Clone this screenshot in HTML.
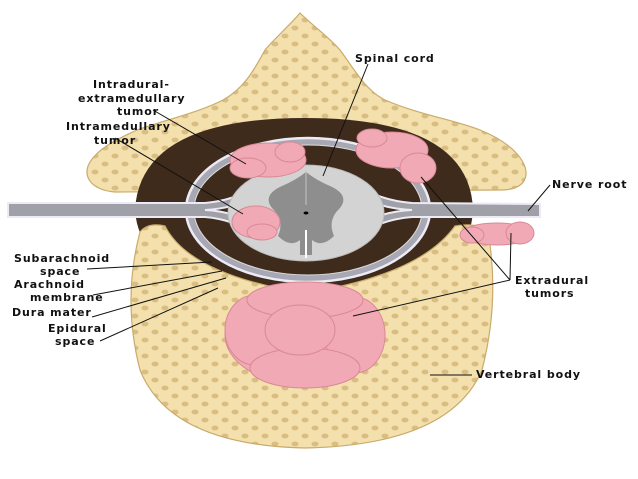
<!DOCTYPE html>
<html><head><meta charset="utf-8"><style>
html,body{margin:0;padding:0;background:#fff;}
svg{display:block}
text{font-family:"DejaVu Sans","Liberation Sans",sans-serif;font-weight:bold;font-size:11px;letter-spacing:0.9px;fill:#111}
</style></head><body>
<svg width="638" height="479" viewBox="0 0 638 479" xmlns="http://www.w3.org/2000/svg">
<defs>
<pattern id="bone" width="20" height="16" patternUnits="userSpaceOnUse">
<rect width="20" height="16" fill="#f3e0ad"/>
<ellipse cx="5" cy="4" rx="3.5" ry="2.4" fill="#d9bd82"/>
<ellipse cx="15" cy="12" rx="3.5" ry="2.4" fill="#d9bd82"/>
</pattern>
</defs>
<!-- upper posterior arch -->
<path d="M300 13 C312 25 330 38 340 50 C355 70 365 90 385 100 C420 115 455 120 480 130 C510 142 527 160 526 175 C524 188 510 190 500 190 L115 192 C92 190 84 178 88 166 C95 150 115 140 137 130 C165 120 200 112 223 100 C245 88 255 68 265 50 C275 38 290 25 300 13Z" fill="url(#bone)" stroke="#c9ab6a" stroke-width="1.2"/>
<!-- canal -->
<path d="M135 210 Q140 118 305 118 Q470 118 473 210 Q470 292 305 296 Q140 292 135 210Z" fill="#3e2b1c"/>
<!-- lower vertebral body (drawn over canal) -->
<path d="M140 232 Q148 222 165 226 Q190 275 305 293 Q420 275 455 226 Q478 222 488 232 Q500 300 482 370 Q450 445 305 448 Q170 445 140 370 Q122 300 140 232Z" fill="url(#bone)" stroke="#c9ab6a" stroke-width="1.2"/>
<!-- dura -->
<ellipse cx="308" cy="210" rx="122" ry="72" fill="#a8a8b4" stroke="#ecebf5" stroke-width="2.5"/>
<ellipse cx="308" cy="210" rx="114" ry="65" fill="#3e2b1c" stroke="#ddd" stroke-width="1"/>
<!-- nerve roots -->
<path d="M8 203 L205 203 Q240 200 265 180 L270 186 Q245 208 205 210 Q245 212 270 236 L265 242 Q240 220 205 217 L8 217Z" fill="#a0a0a8" stroke="#ecebf5" stroke-width="2"/>
<path d="M540 204 L412 203 Q375 200 350 180 L345 186 Q370 208 412 210 Q370 212 345 236 L350 242 Q375 220 412 217 L540 217Z" fill="#a0a0a8" stroke="#ecebf5" stroke-width="2"/>
<!-- spinal cord -->
<ellipse cx="306" cy="213" rx="78" ry="48" fill="#d3d3d3" stroke="#bbb"/>
<path d="M306 172 Q296 180 282 186 Q262 195 272 208 Q285 220 278 236 Q290 248 300 240 L300 255 L312 255 L312 240 Q322 248 334 236 Q327 220 340 208 Q350 195 330 186 Q316 180 306 172Z" fill="#8e8e8e"/>
<line x1="306" y1="170" x2="306" y2="205" stroke="#c4c4c4" stroke-width="1"/>
<line x1="306" y1="230" x2="306" y2="258" stroke="#fff" stroke-width="2"/>
<ellipse cx="306" cy="213" rx="2.5" ry="1.5" fill="#000"/>
<!-- tumors -->
<g fill="#f2a9b6" stroke="#d88995" stroke-width="1">
<ellipse cx="268" cy="160" rx="38" ry="17"/><ellipse cx="248" cy="168" rx="18" ry="10"/><ellipse cx="290" cy="152" rx="15" ry="10"/>
<ellipse cx="392" cy="150" rx="36" ry="18"/><ellipse cx="418" cy="168" rx="18" ry="15"/><ellipse cx="372" cy="138" rx="15" ry="9"/>
<ellipse cx="256" cy="222" rx="24" ry="16"/><ellipse cx="262" cy="232" rx="15" ry="8"/>
<ellipse cx="497" cy="234" rx="36" ry="11"/><ellipse cx="520" cy="233" rx="14" ry="11"/><ellipse cx="472" cy="235" rx="12" ry="8"/>
<ellipse cx="305" cy="335" rx="80" ry="50"/><ellipse cx="255" cy="330" rx="30" ry="35"/><ellipse cx="355" cy="335" rx="30" ry="38"/>
<ellipse cx="305" cy="300" rx="58" ry="18"/><ellipse cx="305" cy="368" rx="55" ry="20"/><ellipse cx="300" cy="330" rx="35" ry="25"/>
</g>
<!-- leader lines -->
<g stroke="#111" stroke-width="1" fill="none">
<line x1="368" y1="64" x2="323" y2="176"/>
<line x1="153" y1="110" x2="246" y2="164"/>
<line x1="115" y1="138" x2="243" y2="214"/>
<line x1="550" y1="185" x2="528" y2="211"/>
<line x1="87" y1="269" x2="212" y2="262"/>
<line x1="93" y1="295" x2="222" y2="271"/>
<line x1="92" y1="317" x2="226" y2="278"/>
<line x1="100" y1="341" x2="218" y2="288"/>
<line x1="510" y1="280" x2="421" y2="177"/>
<line x1="510" y1="280" x2="511" y2="233"/>
<line x1="510" y1="280" x2="353" y2="316"/>
<line x1="472" y1="375" x2="430" y2="375"/>
</g>
<!-- labels -->
<text x="355" y="62">Spinal cord</text>
<text x="93" y="88">Intradural-</text>
<text x="78" y="102">extramedullary</text>
<text x="117" y="115">tumor</text>
<text x="66" y="130">Intramedullary</text>
<text x="94" y="144">tumor</text>
<text x="552" y="188">Nerve root</text>
<text x="14" y="262">Subarachnoid</text>
<text x="40" y="275">space</text>
<text x="14" y="288">Arachnoid</text>
<text x="30" y="301">membrane</text>
<text x="12" y="316">Dura mater</text>
<text x="48" y="332">Epidural</text>
<text x="55" y="345">space</text>
<text x="515" y="284">Extradural</text>
<text x="525" y="297">tumors</text>
<text x="476" y="378">Vertebral body</text>
</svg>
</body></html>
